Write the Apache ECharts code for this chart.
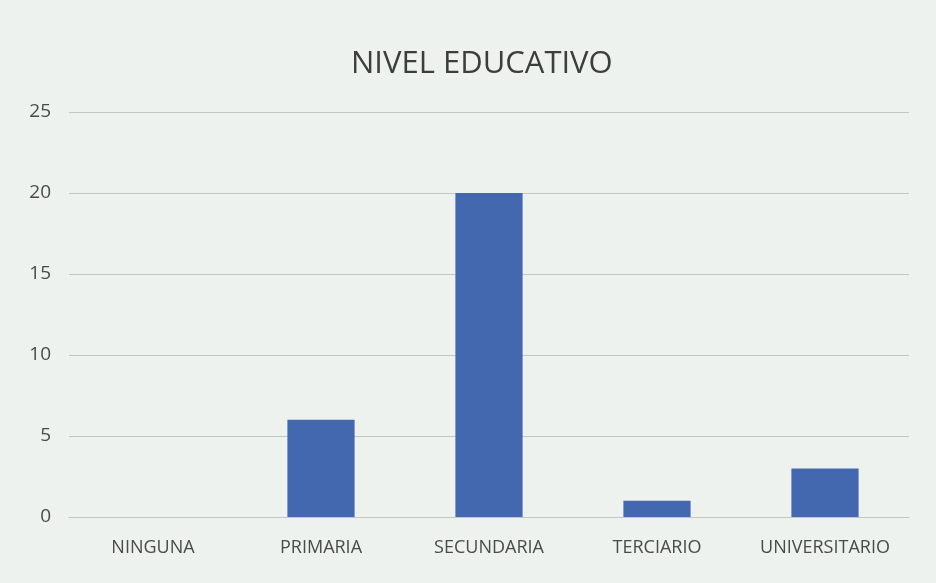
<!DOCTYPE html>
<html>
<head>
<meta charset="utf-8">
<script src="https://cdn.jsdelivr.net/npm/echarts@6/dist/echarts.min.js"></script>
<style>
  html, body { margin: 0; padding: 0; background: #eef2ee; }
  #chart { width: 936px; height: 583px; }
</style>
</head>
<body>
<div id="chart"></div>
<script>
  var categories = ['NINGUNA', 'PRIMARIA', 'SECUNDARIA', 'TERCIARIO', 'UNIVERSITARIO'];
  var values = [0, 6, 20, 1, 3];
  var titleText = 'NIVEL EDUCATIVO';

  var chart = echarts.init(document.getElementById('chart'), null, { renderer: 'canvas' });
  chart.setOption({
    backgroundColor: '#eef2ee',
    animation: false,
    textStyle: { fontFamily: 'Open Sans, Lato, sans-serif' },
    title: {
      text: titleText,
      left: 346,
      top: 44,
      textStyle: { color: '#3d3d3d', fontSize: 31, fontWeight: 'normal', fontFamily: 'Open Sans, Lato, sans-serif' }
    },
    grid: { left: 69, right: 27, top: 112, bottom: 66 },
    xAxis: {
      type: 'category',
      data: categories,
      axisTick: { show: false },
      axisLine: { lineStyle: { color: '#c4c6c4', width: 1 } },
      axisLabel: { color: '#4a4a4a', fontSize: 18, margin: 22, interval: 0, hideOverlap: false }
    },
    yAxis: {
      type: 'value',
      min: 0,
      max: 25,
      interval: 5,
      axisLine: { show: false },
      axisTick: { show: false },
      axisLabel: { color: '#4a4a4a', fontSize: 19, margin: 18 },
      splitLine: { lineStyle: { color: '#c4c6c4', width: 1 } }
    },
    series: [{
      type: 'bar',
      data: values,
      barWidth: '40%',
      itemStyle: { color: '#4468b0' }
    }]
  });
</script>
</body>
</html>
